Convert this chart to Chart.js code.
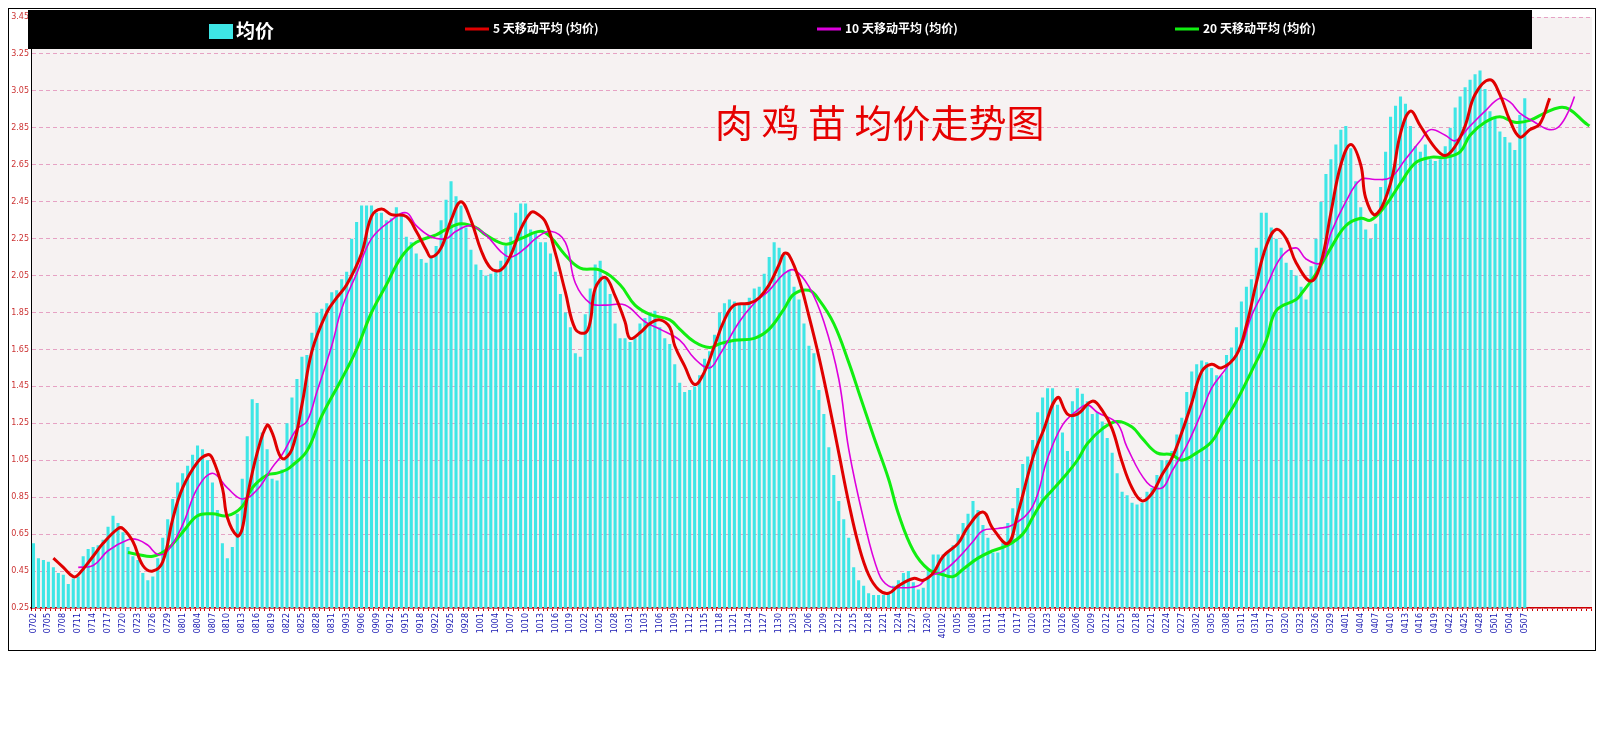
<!DOCTYPE html>
<html>
<head>
<meta charset="utf-8">
<script src="https://cdn.jsdelivr.net/npm/chart.js@4"></script>
<style>
  html, body { margin: 0; padding: 0; background: #fff; }
  #wrap { width: 1601px; height: 729px; }
</style>
</head>
<body>
<div id="wrap"><canvas id="priceChart" width="1601" height="729"></canvas></div>
<script>
// x tick labels, one every 3 trading days
const tickLabels = ['0702','0705','0708','0711','0714','0717','0720','0723','0726','0729','0801','0804','0807','0810','0813','0816','0819','0822','0825','0828','0831','0903','0906','0909','0912','0915','0918','0922','0925','0928','1001','1004',
  '1007','1010','1013','1016','1019','1022','1025','1028','1031','1103','1106','1109','1112','1115','1118','1121','1124','1127','1130','1203','1206','1209','1212','1215','1218','1221','1224','1227','1230','140102','0105','0108','0111','0114',
  '0117','0120','0123','0126','0206','0209','0212','0215','0218','0221','0224','0227','0302','0305','0308','0311','0314','0317','0320','0323','0326','0329','0401','0404','0407','0410','0413','0416','0419','0422','0425','0428','0501','0504','0507'];
const categoryCount = 314;
const yTicks = [0.25,0.45,0.65,0.85,1.05,1.25,1.45,1.65,1.85,2.05,2.25,2.45,2.65,2.85,3.05,3.25,3.45];

// daily average price
const avgPrice = [
  0.60,0.52,0.51,0.50,0.47,0.44,0.43,0.38,0.41,0.42,
  0.53,0.57,0.58,0.59,0.62,0.69,0.75,0.71,0.66,0.58,
  0.53,0.51,0.44,0.40,0.42,0.52,0.63,0.73,0.84,0.93,
  0.98,1.02,1.08,1.13,1.11,1.05,0.93,0.78,0.60,0.52,
  0.58,0.76,0.95,1.18,1.38,1.36,1.20,1.11,0.95,0.94,
  1.00,1.25,1.39,1.49,1.61,1.62,1.74,1.85,1.87,1.90,
  1.96,1.97,2.03,2.07,2.25,2.34,2.43,2.43,2.43,2.39,
  2.39,2.35,2.36,2.42,2.39,2.26,2.23,2.17,2.14,2.12,
  2.15,2.21,2.35,2.46,2.56,2.48,2.43,2.31,2.19,2.11,
  2.08,2.05,2.06,2.07,2.13,2.21,2.26,2.39,2.44,2.44,
  2.30,2.28,2.23,2.23,2.17,2.07,1.95,1.85,1.77,1.63,
  1.61,1.84,1.98,2.11,2.13,2.04,1.95,1.79,1.71,1.71,
  1.69,1.71,1.79,1.82,1.85,1.86,1.77,1.71,1.68,1.57,
  1.47,1.42,1.43,1.45,1.51,1.60,1.64,1.73,1.85,1.90,
  1.92,1.91,1.89,1.90,1.93,1.98,1.99,2.06,2.15,2.23,
  2.20,2.16,2.08,1.99,1.92,1.79,1.67,1.63,1.43,1.30,
  1.12,0.97,0.83,0.73,0.63,0.47,0.40,0.37,0.33,0.32,
  0.32,0.32,0.33,0.37,0.40,0.44,0.45,0.39,0.35,0.36,
  0.46,0.54,0.54,0.54,0.56,0.59,0.65,0.71,0.76,0.83,
  0.78,0.70,0.63,0.55,0.55,0.60,0.71,0.79,0.90,1.03,
  1.07,1.16,1.31,1.39,1.44,1.44,1.35,1.20,1.10,1.37,
  1.44,1.41,1.37,1.30,1.31,1.26,1.17,1.09,0.98,0.88,
  0.86,0.82,0.81,0.82,0.88,0.90,0.97,1.05,1.05,1.10,
  1.19,1.28,1.42,1.53,1.57,1.59,1.58,1.55,1.51,1.51,
  1.62,1.66,1.77,1.91,1.99,2.03,2.20,2.39,2.39,2.31,
  2.25,2.20,2.12,2.08,2.05,1.99,1.92,2.10,2.25,2.45,
  2.60,2.68,2.76,2.84,2.86,2.74,2.56,2.42,2.30,2.25,
  2.33,2.53,2.72,2.91,2.97,3.02,2.98,2.86,2.75,2.72,
  2.76,2.68,2.67,2.68,2.75,2.85,2.96,3.02,3.07,3.11,
  3.14,3.16,3.06,2.94,2.91,2.83,2.80,2.77,2.73,2.92,3.01
];

// moving averages, read as [category index, value]
const ma5 = [[4,0.52],[6,0.47],[8,0.42],[9,0.43],[12,0.53],[14,0.60],[17,0.68],[18,0.68],[20,0.61],[22,0.48],[24,0.45],[26,0.50],[28,0.73],[30,0.90],[33,1.04],[35,1.08],[36,1.06],[38,0.90],[39,0.74],[41,0.64],[42,0.68],[43,0.85],[45,1.09],[47,1.24],[48,1.20],[50,1.06],[52,1.11],[54,1.35],[56,1.64],[59,1.85],[61,1.93],[63,2.00],[66,2.17],[68,2.37],[70,2.41],[72,2.38],[75,2.37],[77,2.29],[79,2.19],[80,2.15],[82,2.20],[84,2.35],[86,2.45],[88,2.35],[90,2.19],[92,2.09],[94,2.08],[96,2.16],[98,2.30],[100,2.39],[101,2.39],[103,2.34],[105,2.17],[107,1.96],[109,1.76],[111,1.74],[112,1.80],[113,1.98],[115,2.04],[117,1.94],[119,1.80],[120,1.71],[122,1.74],[124,1.79],[126,1.81],[128,1.77],[129,1.67],[131,1.56],[133,1.46],[135,1.53],[137,1.67],[139,1.81],[141,1.89],[144,1.90],[146,1.93],[148,2.00],[150,2.11],[151,2.17],[152,2.16],[154,2.03],[156,1.83],[158,1.61],[160,1.36],[162,1.09],[164,0.82],[166,0.59],[168,0.43],[170,0.35],[172,0.33],[174,0.37],[177,0.41],[179,0.40],[181,0.44],[183,0.53],[186,0.60],[188,0.69],[191,0.77],[193,0.68],[196,0.60],[198,0.76],[201,1.06],[203,1.20],[206,1.39],[208,1.30],[210,1.30],[213,1.37],[215,1.32],[217,1.22],[219,1.04],[221,0.90],[223,0.83],[225,0.87],[227,0.97],[229,1.06],[231,1.20],[233,1.36],[235,1.53],[237,1.57],[239,1.55],[242,1.62],[244,1.78],[246,2.01],[248,2.21],[250,2.30],[252,2.25],[254,2.12],[257,2.02],[259,2.12],[261,2.39],[263,2.65],[265,2.76],[267,2.65],[268,2.47],[270,2.38],[273,2.55],[275,2.82],[277,2.94],[279,2.86],[282,2.74],[284,2.70],[286,2.75],[288,2.86],[290,3.03],[293,3.11],[295,3.03],[297,2.89],[299,2.80],[301,2.84],[303,2.87],[305,3.01]];
const ma10 = [[9,0.47],[12,0.48],[15,0.56],[19,0.62],[21,0.62],[23,0.59],[25,0.54],[27,0.56],[30,0.70],[33,0.90],[36,0.98],[39,0.90],[42,0.84],[45,0.89],[48,1.01],[50,1.08],[53,1.22],[55,1.26],[57,1.42],[60,1.67],[62,1.87],[65,2.06],[68,2.25],[72,2.35],[75,2.39],[77,2.32],[80,2.26],[83,2.25],[85,2.29],[88,2.32],[91,2.27],[94,2.18],[96,2.15],[99,2.20],[101,2.25],[104,2.29],[107,2.23],[109,2.01],[112,1.90],[115,1.89],[119,1.89],[123,1.80],[126,1.76],[130,1.70],[133,1.60],[136,1.55],[138,1.62],[142,1.80],[145,1.90],[148,1.97],[151,2.06],[153,2.08],[156,1.99],[159,1.80],[162,1.49],[164,1.11],[167,0.73],[170,0.44],[172,0.37],[175,0.36],[178,0.37],[180,0.42],[183,0.45],[186,0.52],[189,0.61],[191,0.67],[194,0.68],[197,0.70],[201,0.80],[204,1.06],[207,1.24],[210,1.32],[212,1.35],[214,1.31],[218,1.25],[220,1.12],[224,0.93],[227,0.90],[229,0.99],[232,1.13],[235,1.31],[237,1.44],[240,1.55],[243,1.67],[245,1.83],[248,1.99],[251,2.15],[254,2.20],[256,2.14],[259,2.12],[261,2.28],[264,2.45],[267,2.57],[270,2.57],[273,2.58],[276,2.68],[279,2.78],[281,2.84],[284,2.81],[286,2.78],[289,2.86],[292,2.94],[295,3.01],[297,2.99],[299,2.93],[302,2.88],[305,2.84],[307,2.86],[309,2.95],[310,3.02]];
const ma20 = [[19,0.55],[21,0.54],[24,0.53],[27,0.57],[30,0.66],[33,0.75],[36,0.76],[39,0.75],[42,0.80],[44,0.90],[47,0.97],[49,0.98],[51,1.00],[52,1.02],[55,1.10],[58,1.29],[62,1.49],[65,1.65],[68,1.85],[71,2.00],[74,2.15],[77,2.23],[81,2.27],[83,2.30],[86,2.33],[89,2.31],[91,2.27],[95,2.22],[98,2.25],[102,2.29],[104,2.26],[107,2.16],[110,2.09],[114,2.08],[118,2.00],[121,1.89],[124,1.84],[128,1.81],[130,1.76],[133,1.69],[136,1.66],[138,1.68],[141,1.70],[145,1.71],[148,1.76],[151,1.87],[153,1.95],[156,1.97],[158,1.92],[161,1.79],[164,1.58],[166,1.42],[169,1.18],[172,0.95],[174,0.76],[177,0.56],[180,0.46],[183,0.43],[185,0.42],[187,0.46],[190,0.52],[193,0.56],[196,0.59],[199,0.65],[201,0.74],[203,0.83],[204,0.86],[207,0.95],[210,1.05],[212,1.14],[215,1.22],[218,1.26],[221,1.23],[223,1.17],[226,1.09],[229,1.08],[231,1.05],[234,1.09],[237,1.15],[239,1.24],[242,1.37],[245,1.53],[248,1.70],[250,1.86],[254,1.92],[255,1.95],[258,2.06],[261,2.20],[264,2.32],[267,2.36],[269,2.35],[272,2.43],[275,2.55],[278,2.66],[281,2.69],[284,2.69],[287,2.72],[289,2.81],[292,2.88],[295,2.91],[298,2.88],[301,2.89],[304,2.93],[307,2.96],[309,2.95],[312,2.88],[313,2.86]];

const labels = [];
for (let i = 0; i < categoryCount; i++) {
  labels.push(i % 3 === 0 && i / 3 < tickLabels.length ? tickLabels[i / 3] : '');
}
function toSeries(points) {
  const arr = new Array(categoryCount).fill(null);
  points.forEach(([i, v]) => { arr[i] = v; });
  return arr;
}

const frameAndLegend = {
  id: 'frameAndLegend',
  beforeDraw(chart) {
    const { ctx, chartArea: a } = chart;
    ctx.save();
    ctx.fillStyle = '#f6f2f2';
    ctx.fillRect(a.left, a.top, a.right - a.left, a.bottom - a.top);
    ctx.restore();
  },
  afterDraw(chart) {
    const ctx = chart.ctx;
    const ds = chart.data.datasets;
    ctx.save();
    ctx.strokeStyle = '#000';
    ctx.lineWidth = 1;
    ctx.strokeRect(8.5, 8.5, 1587, 642);
    // legend band
    ctx.fillStyle = '#000';
    ctx.fillRect(28, 10, 1504, 39);
    ctx.textBaseline = 'middle';
    ctx.fillStyle = ds[0].backgroundColor;
    ctx.fillRect(209, 24, 24, 15);
    ctx.fillStyle = '#fff';
    ctx.font = 'bold 19px "Noto Sans CJK SC"';
    ctx.fillText(ds[0].label, 236, 31);
    const items = [[1, 465], [2, 817], [3, 1175]];
    ctx.font = 'bold 12px "Noto Sans CJK SC"';
    items.forEach(([k, x]) => {
      ctx.strokeStyle = ds[k].borderColor;
      ctx.lineWidth = 3;
      ctx.beginPath(); ctx.moveTo(x, 29); ctx.lineTo(x + 24, 29); ctx.stroke();
      ctx.fillStyle = '#fff';
      ctx.fillText(ds[k].label, x + 28, 28);
    });
    // title
    ctx.fillStyle = '#e60000';
    ctx.font = '38px "Noto Sans CJK SC"';
    ctx.fillText('肉 鸡 苗 均价走势图', 715, 123);
    ctx.restore();
  }
};

new Chart(document.getElementById('priceChart'), {
  data: {
    labels: labels,
    datasets: [
      { type: 'bar', label: '均价', data: avgPrice, backgroundColor: '#3ee6e6', barPercentage: 0.62, categoryPercentage: 1, order: 4 },
      { type: 'line', label: '5 天移动平均 (均价)', data: toSeries(ma5), borderColor: '#e00000', borderWidth: 3, pointRadius: 0, tension: 0.4, spanGaps: true, order: 1 },
      { type: 'line', label: '10 天移动平均 (均价)', data: toSeries(ma10), borderColor: '#dd00dd', borderWidth: 1.6, pointRadius: 0, tension: 0.4, spanGaps: true, order: 2 },
      { type: 'line', label: '20 天移动平均 (均价)', data: toSeries(ma20), borderColor: '#11ee11', borderWidth: 3, pointRadius: 0, tension: 0.4, spanGaps: true, order: 3 }
    ]
  },
  options: {
    responsive: false,
    animation: false,
    layout: { padding: { left: 8, right: 7, top: 17, bottom: 91 } },
    plugins: { legend: { display: false }, tooltip: { enabled: false } },
    scales: {
      x: {
        grid: { display: true, drawOnChartArea: false, tickLength: 3, tickColor: '#cc0000', color: '#cc0000' },
        border: { color: '#cc0000', width: 1.5 },
        ticks: { autoSkip: false, minRotation: 90, maxRotation: 90, color: '#1515b0', font: { size: 8, family: 'DejaVu Sans' }, padding: 2 },
        afterFit(scale) { scale.height = 30; }
      },
      y: {
        min: 0.25,
        max: 3.45,
        afterBuildTicks(scale) { scale.ticks = yTicks.map(v => ({ value: v })); },
        afterFit(scale) { scale.width = 23; },
        grid: { color: '#e6a2c4', drawTicks: false },
        border: { color: '#000', width: 1, dash: [4, 3] },
        ticks: { color: '#cc3333', font: { size: 8, family: 'DejaVu Sans' }, padding: 2, callback: v => v.toFixed(2) }
      }
    }
  },
  plugins: [frameAndLegend]
});
</script>
</body>
</html>
